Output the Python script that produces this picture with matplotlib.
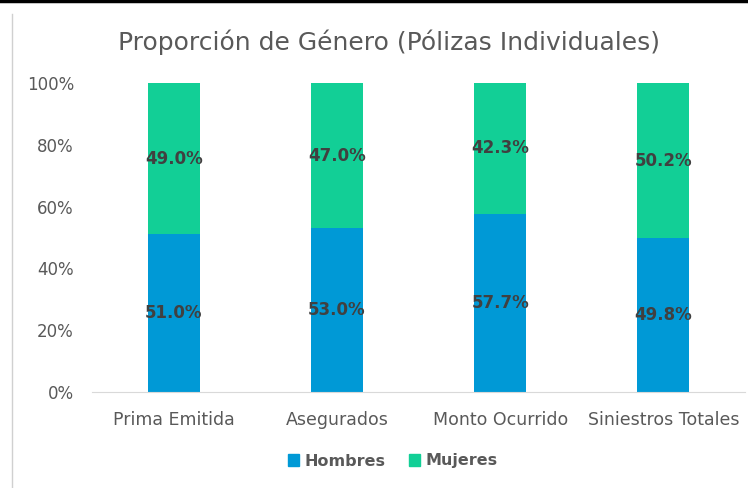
import matplotlib.pyplot as plt
from matplotlib.lines import Line2D
from matplotlib.patches import Patch
import numpy as np

# datos
categorias = ['Prima Emitida', 'Asegurados', 'Monto Ocurrido', 'Siniestros Totales']
hombres = [51.0, 53.0, 57.7, 49.8]
mujeres = [49.0, 47.0, 42.3, 50.2]
ticks_y = [0, 20, 40, 60, 80, 100]

azul = '#0099D6'
verde = '#12CF96'
gris = '#595959'

plt.rcParams['font.family'] = ['DejaVu Sans']

fig = plt.figure(figsize=(7.48, 4.88), dpi=100)
ax = fig.add_axes([92 / 748, 1 - 392 / 488, (745 - 92) / 748, (392 - 83) / 488])

x = np.arange(len(categorias))
ancho = 0.32
ax.bar(x, hombres, ancho, color=azul, label='Hombres')
ax.bar(x, mujeres, ancho, bottom=hombres, color=verde, label='Mujeres')

for i in range(len(categorias)):
    ax.text(x[i], hombres[i] / 2, f'{hombres[i]:.1f}%', ha='center', va='center',
            fontsize=12, fontweight='bold', color='#404040')
    ax.text(x[i], hombres[i] + mujeres[i] / 2, f'{mujeres[i]:.1f}%', ha='center', va='center',
            fontsize=12, fontweight='bold', color='#404040')

ax.set_xlim(-0.5, len(categorias) - 0.5)
ax.set_ylim(0, 100)
ax.set_yticks(ticks_y)
ax.set_yticklabels([f'{t}%' for t in ticks_y], color=gris, fontsize=12)
ax.set_xticks(x)
ax.set_xticklabels(categorias, color=gris, fontsize=12.5)
ax.tick_params(length=0, pad=14)
ax.tick_params(axis='y', pad=13)
for s in ['top', 'right', 'left']:
    ax.spines[s].set_visible(False)
ax.spines['bottom'].set_color('#d9d9d9')

fig.text(0.52, 1 - 42 / 488, 'Proporción de Género (Pólizas Individuales)', ha='center', va='center',
         fontsize=18, color=gris)

handles = [Patch(color=azul), Patch(color=verde)]
fig.legend(handles, ['Hombres', 'Mujeres'], loc='center', bbox_to_anchor=(0.525, 1 - 461 / 488),
           ncol=2, frameon=False, handlelength=0.7, handleheight=0.7, handletextpad=0.3,
           columnspacing=1.5, prop={'size': 11.5, 'weight': 'bold'}, labelcolor=gris)

# bordes del recorte
fig.add_artist(Line2D([0, 1], [1 - 1 / 488, 1 - 1 / 488], color='black', lw=2.5))
fig.add_artist(Line2D([12 / 748, 12 / 748], [0, 1 - 14 / 488], color='#d0d0d0', lw=1))

fig.savefig('out.png', dpi=100)
